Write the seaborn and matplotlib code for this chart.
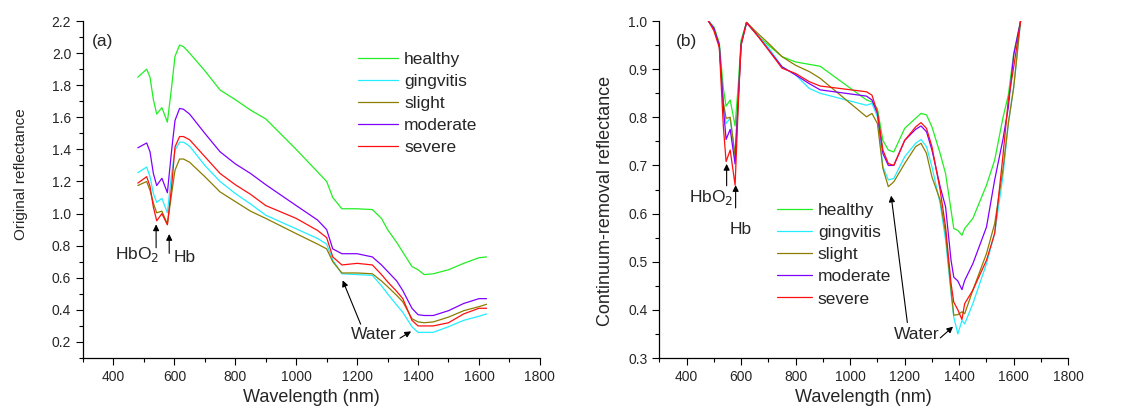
import numpy as np
import pandas as pd
import matplotlib
matplotlib.use('Agg')
import matplotlib.pyplot as plt
import seaborn as sns
from matplotlib.ticker import MultipleLocator

# ---------------- data ----------------
groups = ['healthy', 'gingvitis', 'slight', 'moderate', 'severe']
colors = ['#22ee22', '#22eeff', '#8b7d00', '#8000ff', '#ff1010']

# (a) original reflectance
wl_a = [480, 509, 520, 531, 542, 559, 577, 591, 602, 617, 630, 650, 700, 750, 800, 850, 900,
        1000, 1070, 1100, 1120, 1150, 1200, 1250, 1280, 1300, 1330, 1350, 1380, 1400, 1420,
        1450, 1500, 1550, 1600, 1625]
healthy_a = [1.85, 1.90, 1.85, 1.71, 1.62, 1.66, 1.57, 1.79, 1.98, 2.05, 2.04, 2.00, 1.89, 1.77,
             1.71, 1.645, 1.59, 1.40, 1.26, 1.20, 1.10, 1.03, 1.03, 1.025, 0.97, 0.90, 0.82,
             0.76, 0.67, 0.65, 0.62, 0.625, 0.65, 0.69, 0.725, 0.73]
gingvitis_a = [1.255, 1.29, 1.23, 1.125, 1.07, 1.095, 1.005, 1.25, 1.395, 1.445, 1.445, 1.42,
               1.30, 1.20, 1.125, 1.06, 0.99, 0.905, 0.845, 0.81, 0.71, 0.625, 0.62, 0.615,
               0.55, 0.50, 0.43, 0.385, 0.295, 0.26, 0.26, 0.26, 0.295, 0.335, 0.36, 0.375]
slight_a = [1.175, 1.20, 1.145, 1.065, 1.005, 1.015, 0.935, 1.125, 1.27, 1.34, 1.34, 1.32, 1.23,
            1.135, 1.075, 1.015, 0.97, 0.875, 0.81, 0.78, 0.70, 0.63, 0.63, 0.625, 0.58, 0.545,
            0.49, 0.45, 0.345, 0.325, 0.32, 0.325, 0.355, 0.395, 0.42, 0.435]
moderate_a = [1.41, 1.44, 1.385, 1.25, 1.175, 1.22, 1.13, 1.395, 1.58, 1.655, 1.65, 1.62, 1.50,
              1.385, 1.31, 1.25, 1.18, 1.05, 0.96, 0.90, 0.78, 0.75, 0.75, 0.73, 0.68, 0.64,
              0.58, 0.52, 0.41, 0.37, 0.365, 0.365, 0.395, 0.44, 0.47, 0.47]
severe_a = [1.19, 1.23, 1.17, 1.04, 0.955, 1.0, 0.93, 1.17, 1.415, 1.48, 1.48, 1.46, 1.355, 1.25,
            1.18, 1.12, 1.05, 0.97, 0.895, 0.85, 0.73, 0.68, 0.69, 0.68, 0.62, 0.575, 0.515,
            0.47, 0.335, 0.30, 0.30, 0.30, 0.32, 0.375, 0.41, 0.41]

# (b) continuum-removal reflectance
wl_b = [480, 500, 520, 535, 545, 560, 578, 590, 600, 620, 660, 700, 750, 800, 850, 890, 1060,
        1080, 1100, 1120, 1140, 1160, 1200, 1240, 1260, 1280, 1300, 1330, 1350, 1370, 1380,
        1395, 1410, 1420, 1450, 1500, 1530, 1560, 1580, 1600, 1625]
healthy_b = [1.0, 0.988, 0.955, 0.86, 0.823, 0.836, 0.782, 0.87, 0.96, 0.997, 0.97, 0.95, 0.926,
             0.915, 0.91, 0.906, 0.836, 0.832, 0.818, 0.752, 0.732, 0.728, 0.777, 0.798, 0.808,
             0.805, 0.78, 0.725, 0.683, 0.607, 0.569, 0.565, 0.555, 0.569, 0.59, 0.659, 0.711,
             0.798, 0.846, 0.933, 1.0]
gingvitis_b = [1.0, 0.985, 0.95, 0.83, 0.787, 0.798, 0.72, 0.85, 0.955, 0.997, 0.97, 0.945,
               0.905, 0.888, 0.86, 0.85, 0.825, 0.829, 0.801, 0.697, 0.67, 0.673, 0.718, 0.746,
               0.754, 0.739, 0.697, 0.621, 0.545, 0.434, 0.385, 0.35, 0.378, 0.371, 0.413,
               0.496, 0.559, 0.676, 0.787, 0.863, 1.0]
slight_b = [1.0, 0.985, 0.95, 0.83, 0.798, 0.80, 0.72, 0.85, 0.955, 0.997, 0.975, 0.954, 0.926,
            0.908, 0.895, 0.881, 0.801, 0.808, 0.787, 0.694, 0.656, 0.666, 0.704, 0.739, 0.746,
            0.725, 0.676, 0.628, 0.559, 0.441, 0.389, 0.39, 0.396, 0.392, 0.441, 0.517, 0.579,
            0.69, 0.787, 0.863, 1.0]
moderate_b = [1.0, 0.985, 0.95, 0.82, 0.754, 0.775, 0.703, 0.84, 0.95, 0.997, 0.97, 0.941,
              0.905, 0.888, 0.87, 0.857, 0.844, 0.836, 0.808, 0.725, 0.70, 0.70, 0.752, 0.775,
              0.782, 0.77, 0.732, 0.656, 0.614, 0.503, 0.468, 0.46, 0.442, 0.461, 0.496, 0.572,
              0.67, 0.753, 0.82, 0.93, 1.0]
severe_b = [1.0, 0.98, 0.945, 0.78, 0.708, 0.732, 0.659, 0.83, 0.95, 0.997, 0.97, 0.94, 0.902,
            0.891, 0.874, 0.865, 0.853, 0.846, 0.81, 0.732, 0.704, 0.70, 0.752, 0.78, 0.789,
            0.777, 0.739, 0.649, 0.572, 0.455, 0.416, 0.40, 0.38, 0.413, 0.441, 0.503, 0.559,
            0.718, 0.836, 0.905, 1.0]

series_a = [healthy_a, gingvitis_a, slight_a, moderate_a, severe_a]
series_b = [healthy_b, gingvitis_b, slight_b, moderate_b, severe_b]

def to_long(wl, series):
    rows = []
    for g, vals in zip(groups, series):
        for w, v in zip(wl, vals):
            rows.append((w, v, g))
    return pd.DataFrame(rows, columns=['wl', 'refl', 'group'])

df_a = to_long(wl_a, series_a)
df_b = to_long(wl_b, series_b)

# ---------------- style ----------------
sns.set_theme(style='ticks')
plt.rcParams['font.family'] = ['Liberation Sans', 'DejaVu Sans']
plt.rcParams['xtick.direction'] = 'out'
plt.rcParams['ytick.direction'] = 'out'

fig = plt.figure(figsize=(11.45, 4.12), dpi=100)
ax1 = fig.add_axes([0.0725, 0.131, 0.399, 0.818])
ax2 = fig.add_axes([0.5758, 0.131, 0.3572, 0.818])

pal = dict(zip(groups, colors))
for ax, df in [(ax1, df_a), (ax2, df_b)]:
    sns.lineplot(data=df, x='wl', y='refl', hue='group', hue_order=groups, palette=pal,
                 estimator=None, sort=True, lw=0.9, ax=ax, legend=True)
    ax.set_xlim(300, 1800)
    ax.xaxis.set_major_locator(MultipleLocator(200))
    ax.xaxis.set_minor_locator(MultipleLocator(100))
    ax.set_xlabel('Wavelength (nm)', fontsize=13)
    ax.tick_params(axis='both', which='major', labelsize=10, length=5, width=0.8, color='black')
    ax.tick_params(axis='both', which='minor', length=3, width=0.8, color='black')
    for s in ['top', 'right']:
        ax.spines[s].set_visible(False)
    for s in ['left', 'bottom']:
        ax.spines[s].set_color('black')
        ax.spines[s].set_linewidth(0.9)

ax1.set_ylim(0.1, 2.2)
ax1.yaxis.set_major_locator(MultipleLocator(0.2))
ax1.yaxis.set_minor_locator(MultipleLocator(0.1))
ax1.set_ylabel('Original reflectance', fontsize=11)
ax1.yaxis.set_label_coords(-0.121, 0.546)
ax1.set_xticks([400, 600, 800, 1000, 1200, 1400, 1600, 1800])

ax2.set_ylim(0.3, 1.0)
ax2.yaxis.set_major_locator(MultipleLocator(0.1))
ax2.yaxis.set_minor_locator(MultipleLocator(0.05))
ax2.set_ylabel('Continuum-removal reflectance', fontsize=13)
ax2.yaxis.set_label_coords(-0.11, 0.466)

leg_kw = dict(frameon=False, fontsize=12.5, handletextpad=0.35,
              labelspacing=0.4, borderpad=0, borderaxespad=0, loc='upper left')
ax1.legend(bbox_to_anchor=(0.602, 0.909), handlelength=2.3, **leg_kw)
ax2.legend(bbox_to_anchor=(0.288, 0.46), handlelength=2.0, **leg_kw)

# ---------------- annotations ----------------
arw = dict(arrowstyle='-|>', color='black', lw=0.8, mutation_scale=9)
ax1.text(0.02, 0.96, '(a)', transform=ax1.transAxes, fontsize=12.5, va='top')
ax1.annotate('', xy=(540, 0.95), xytext=(540, 0.77), arrowprops=arw)
ax1.annotate('', xy=(583, 0.89), xytext=(583, 0.735), arrowprops=arw)
ax1.text(552, 0.745, 'HbO$_2$', fontsize=12.5, ha='right', va='center')
ax1.text(596, 0.725, 'Hb', fontsize=12.5, ha='left', va='center')
ax1.text(1253, 0.245, 'Water', fontsize=12.5, ha='center', va='center')
ax1.annotate('', xy=(1149, 0.60), xytext=(1215, 0.295), arrowprops=arw)
ax1.annotate('', xy=(1385, 0.275), xytext=(1333, 0.215), arrowprops=arw)

ax2.text(0.04, 0.96, '(b)', transform=ax2.transAxes, fontsize=12.5, va='top')
ax2.annotate('', xy=(547, 0.709), xytext=(547, 0.652), arrowprops=arw)
ax2.annotate('', xy=(580, 0.665), xytext=(580, 0.606), arrowprops=arw)
ax2.text(490, 0.633, 'HbO$_2$', fontsize=12.5, ha='center', va='center')
ax2.text(597, 0.566, 'Hb', fontsize=12.5, ha='center', va='center')
ax2.text(1244, 0.349, 'Water', fontsize=12.5, ha='center', va='center')
ax2.annotate('', xy=(1149, 0.643), xytext=(1211, 0.368), arrowprops=arw)
ax2.annotate('', xy=(1385, 0.369), xytext=(1323, 0.338), arrowprops=arw)

fig.savefig('out.png', dpi=100)
